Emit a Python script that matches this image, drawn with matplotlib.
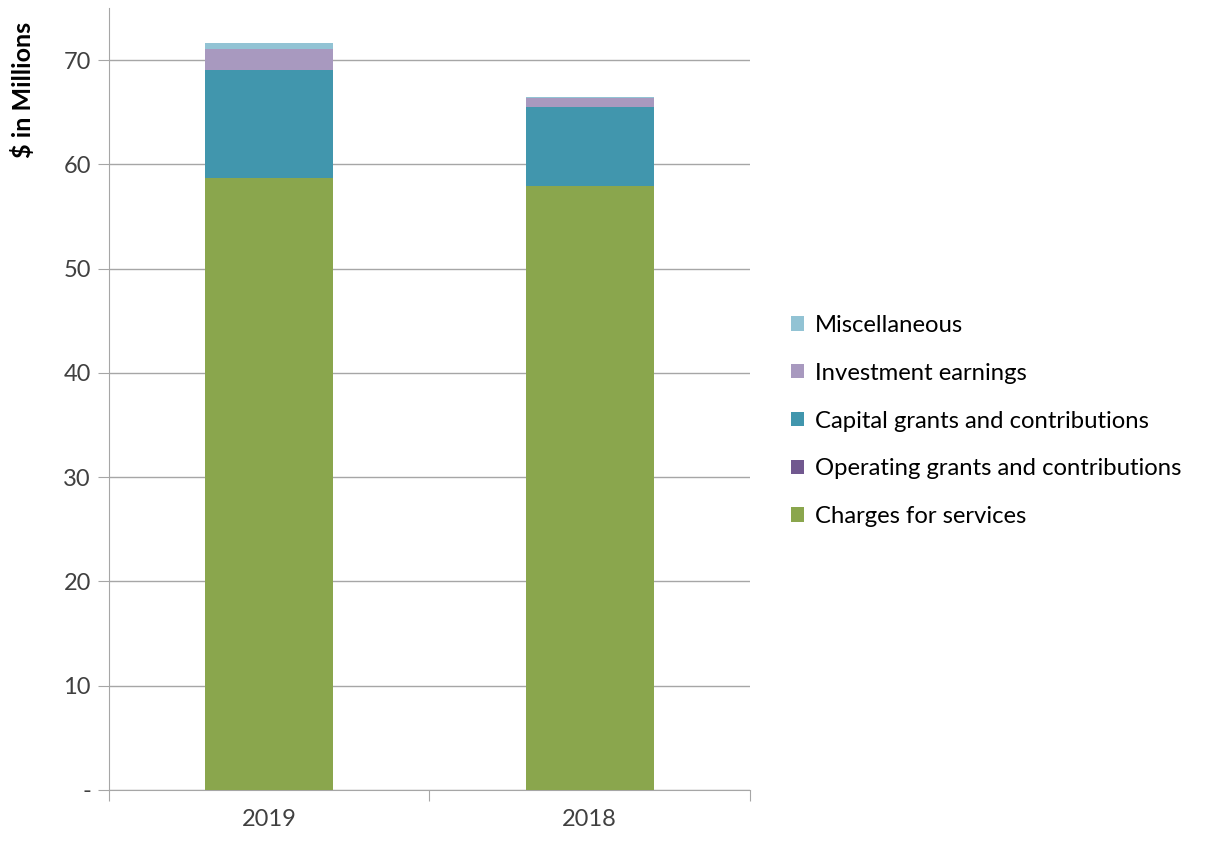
import matplotlib.pyplot as plt
import numpy as np

plt.rcParams['font.family'] = ['Lato', 'DejaVu Sans']

# Revenue by source, $ millions
years = ['2019', '2018']
charges = [58.7, 57.9]
operating = [0.0, 0.0]
capital = [10.4, 7.6]
investment = [1.95, 0.85]
misc = [0.6, 0.12]

series = [
    ('Charges for services', charges, '#8aa64d'),
    ('Operating grants and contributions', operating, '#71588f'),
    ('Capital grants and contributions', capital, '#4196ad'),
    ('Investment earnings', investment, '#a899bf'),
    ('Miscellaneous', misc, '#92c3d4'),
]

fig = plt.figure(figsize=(12.08, 8.42), dpi=100)
ax = fig.add_axes([0.0902, 0.0618, 0.5306, 0.9287])

x = np.arange(len(years))
bottom = np.zeros(len(years))
handles = []
for name, vals, color in series:
    h = ax.bar(x, vals, 0.4, bottom=bottom, color=color, label=name, zorder=3)
    handles.append(h)
    bottom += np.array(vals)

ax.set_xlim(-0.5, 1.5)
ax.set_ylim(0, 75)
ax.set_yticks(range(0, 71, 10))
ax.set_yticklabels(['-'] + [str(v) for v in range(10, 71, 10)], fontsize=17, color='#404040')
ax.yaxis.grid(True, color='#a6a6a6', linewidth=1, zorder=0)

# category boundary ticks below, labels centred under bars
ax.set_xticks([-0.5, 0.5, 1.5])
ax.set_xticklabels([])
ax.set_xticks(x, minor=True)
ax.set_xticklabels(years, minor=True, fontsize=17, color='#404040')
ax.tick_params(axis='x', which='minor', length=0, pad=14)
ax.tick_params(axis='x', which='major', length=8, color='#a6a6a6')
ax.tick_params(axis='y', length=8, color='#a6a6a6', pad=5)

for s in ['top', 'right']:
    ax.spines[s].set_visible(False)
for s in ['left', 'bottom']:
    ax.spines[s].set_color('#a6a6a6')

ax.set_ylabel('$ in Millions', fontsize=18, fontweight='bold')
ax.yaxis.set_label_coords(-0.115, 0.895)

fig.legend(handles[::-1], [s[0] for s in series][::-1],
           loc='center left', bbox_to_anchor=(0.637, 0.50),
           frameon=False, fontsize=17.2, handlelength=0.55, handleheight=0.55,
           handletextpad=0.45, labelspacing=1.12)

fig.savefig('out.png', dpi=100)
